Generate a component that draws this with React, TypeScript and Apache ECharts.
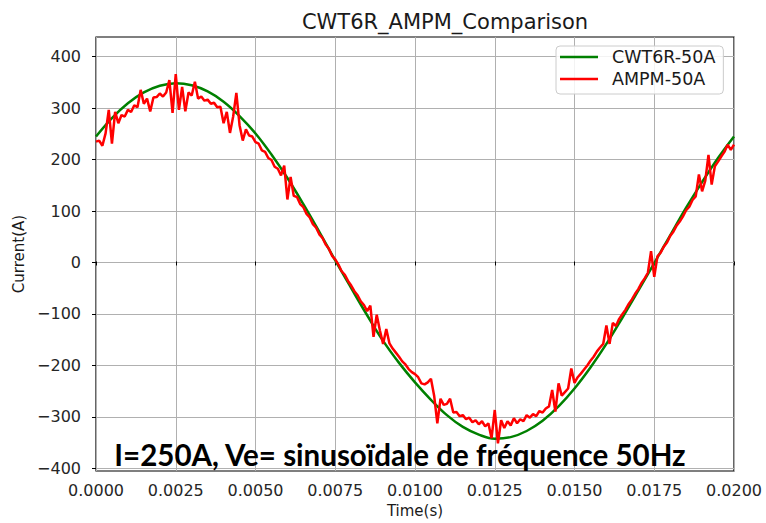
import React, { useEffect, useRef } from "react";
import * as echarts from "echarts";

// Time axis
const X_MIN = 0;
const X_MAX = 0.02;
const X_TICK = 0.0025;
const Y_TICKS_MIN = -400;
const Y_TICKS_MAX = 400;
const Y_TICK = 100;

// CWT6R-50A samples every 0.5 ms
const GREEN_STEP = 0.0005;
const greenValues = [
  244, 280, 309, 330, 343, 348, 344, 332, 312, 284, 250, 209, 163, 112, 58, 2,
  -52, -105, -155, -198, -236, -270, -300, -323, -338, -346, -343, -331, -311,
  -283, -248, -207, -161, -110, -57, -3, 51, 105, 155, 202, 244,
];

// AMPM-50A samples every 0.1 ms (including spikes)
const RED_STEP = 0.0001;
const redValues = [
  234, 236, 226, 250, 296, 230, 292, 270, 286, 283,
  296, 292, 305, 301, 335, 308, 318, 293, 320, 321,
  328, 322, 330, 354, 290, 366, 296, 341, 293, 330,
  324, 351, 318, 322, 314, 316, 308, 310, 301, 302,
  270, 292, 251, 283, 329, 266, 236, 258, 246, 244,
  233, 230, 217, 214, 202, 198, 185, 181, 168, 187,
  121, 165, 128, 126, 112, 106, 93, 86, 73, 66,
  53, 46, 33, 25, 11, 4, -6, -19, -26, -38,
  -47, -58, -66, -78, -85, -97, -86, -147, -104, -135,
  -161, -132, -160, -170, -178, -186, -195, -201, -210, -216,
  -220, -226, -238, -240, -236, -229, -262, -316, -268, -280,
  -278, -268, -295, -294, -302, -300, -308, -305, -314, -310,
  -318, -312, -322, -316, -345, -290, -355, -310, -325, -312,
  -320, -306, -316, -308, -312, -300, -305, -298, -302, -292,
  -295, -287, -283, -251, -293, -238, -262, -255, -248, -209,
  -237, -226, -219, -211, -203, -194, -186, -176, -168, -161,
  -125, -161, -120, -126, -112, -103, -94, -83, -74, -63,
  -54, -42, -33, -22, 20, -30, 10, 17, 29, 37,
  50, 58, 70, 78, 88, 100, 107, 120, 127, 170,
  137, 158, 208, 150, 186, 195, 205, 214, 228, 218,
  228,
];

const SERIES_NAMES = ["CWT6R-50A", "AMPM-50A"];
const TITLE = "CWT6R_AMPM_Comparison";
const X_NAME = "Time(s)";
const Y_NAME = "Current(A)";
const NOTE = "I=250A, Ve= sinusoïdale de fréquence 50Hz";

const FONT = "DejaVu Sans";

export default function App() {
  const ref = useRef<HTMLDivElement>(null);

  useEffect(() => {
    if (!ref.current) return;
    const chart = echarts.init(ref.current, undefined, { renderer: "svg" });

    const greenData = greenValues.map((v, i) => [+(i * GREEN_STEP).toFixed(5), v]);
    const redData = redValues.map((v, i) => [+(i * RED_STEP).toFixed(5), v]);

    const fmtY = (v: number) => (v < 0 ? "\u2212" + Math.abs(v) : String(v));

    chart.setOption({
      animation: false,
      backgroundColor: "#ffffff",
      title: {
        text: TITLE,
        left: 440,
        top: 6,
        textAlign: "center",
        textStyle: { fontFamily: FONT, fontSize: 21, fontWeight: "normal", color: "#1a1a1a" },
      },
      legend: {
        data: SERIES_NAMES,
        orient: "vertical",
        left: 556,
        top: 46,
        icon: "rect",
        itemWidth: 38,
        itemHeight: 2.5,
        itemGap: 4,
        padding: [2, 8, 6, 4],
        backgroundColor: "rgba(255,255,255,0.85)",
        borderColor: "#cccccc",
        borderWidth: 1,
        borderRadius: 4,
        textStyle: { fontFamily: FONT, fontSize: 17.5, color: "#1a1a1a", padding: [0, 0, 0, 9] },
      },
      grid: [
        {
          left: 96,
          top: 37,
          width: 638,
          height: 436,
          show: true,
          borderColor: "#000000",
          borderWidth: 1.2,
          backgroundColor: "transparent",
        },
        { left: 96, top: 56.7, width: 638, height: 411.6 },
      ],
      xAxis: [
        {
          type: "value",
          gridIndex: 0,
          min: X_MIN,
          max: X_MAX,
          interval: X_TICK,
          name: X_NAME,
          nameLocation: "middle",
          nameGap: 32,
          nameTextStyle: { fontFamily: FONT, fontSize: 15, color: "#1a1a1a" },
          axisLine: { show: false },
          axisTick: { show: true, length: 4, lineStyle: { color: "#000" } },
          axisLabel: {
            fontFamily: FONT,
            fontSize: 16,
            color: "#262626",
            margin: 11,
            formatter: (v: number) => v.toFixed(4),
          },
          splitLine: { show: true, lineStyle: { color: "#b0b0b0", width: 1 } },
        },
        {
          type: "value",
          gridIndex: 1,
          min: X_MIN,
          max: X_MAX,
          show: false,
        },
      ],
      yAxis: [
        {
          type: "value",
          gridIndex: 0,
          min: -409.1,
          max: 438.3,
          name: Y_NAME,
          nameLocation: "middle",
          nameGap: 70,
          nameTextStyle: { fontFamily: FONT, fontSize: 15, color: "#1a1a1a" },
          axisLine: { show: false },
          axisTick: { show: false },
          axisLabel: { show: false },
          splitLine: { show: false },
        },
        {
          type: "value",
          gridIndex: 1,
          min: Y_TICKS_MIN,
          max: Y_TICKS_MAX,
          interval: Y_TICK,
          axisLine: { show: false },
          axisTick: { show: true, length: 4, lineStyle: { color: "#000" } },
          axisLabel: {
            fontFamily: FONT,
            fontSize: 16,
            color: "#262626",
            margin: 15,
            formatter: fmtY,
          },
          splitLine: { show: true, lineStyle: { color: "#b0b0b0", width: 1 } },
        },
      ],
      series: [
        {
          name: SERIES_NAMES[0],
          type: "line",
          xAxisIndex: 0,
          yAxisIndex: 0,
          data: greenData,
          smooth: 0.4,
          showSymbol: false,
          color: "#008000",
          lineStyle: { color: "#008000", width: 2.5 },
          z: 3,
        },
        {
          name: SERIES_NAMES[1],
          type: "line",
          xAxisIndex: 0,
          yAxisIndex: 0,
          data: redData,
          showSymbol: false,
          color: "#ff0000",
          lineStyle: { color: "#ff0000", width: 2.5 },
          z: 4,
        },
      ],
      graphic: [
        {
          type: "text",
          x: 400,
          y: 454,
          z: 100,
          style: {
            text: NOTE,
            fontFamily: "Lato",
            fontWeight: "bold",
            fontSize: 29.5,
            fill: "#000000",
            textAlign: "center",
            textVerticalAlign: "middle",
          },
        },
      ],
    });

    return () => chart.dispose();
  }, []);

  return (
    <div
      ref={ref}
      style={{ position: "absolute", left: 0, top: 0, width: 766, height: 523 }}
    />
  );
}
